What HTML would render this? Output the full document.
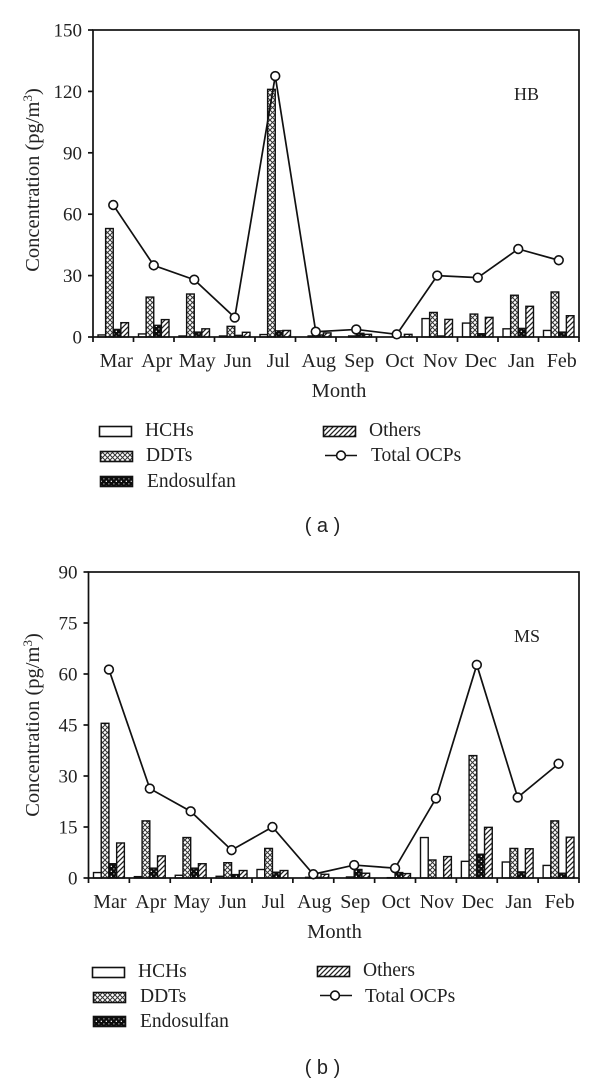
<!DOCTYPE html>
<html>
<head>
<meta charset="utf-8">
<style>
html,body{margin:0;padding:0;background:#fff;}
svg{display:block;}
text{font-family:"Liberation Serif",serif;fill:#222;font-size:19.5px;}
.cap{font-family:"Liberation Sans",sans-serif;font-size:20px;}
</style>
</head>
<body>
<svg id="fig" xmlns="http://www.w3.org/2000/svg" width="600" height="1082" viewBox="0 0 600 1082">
  <defs>
    <pattern id="p-ddt" patternUnits="userSpaceOnUse" width="5" height="5">
      <rect width="5" height="5" fill="#fff"/>
      <path d="M0 0L5 5M5 0L0 5" stroke="#333" stroke-width="1"/>
    </pattern>
    <pattern id="p-endo" patternUnits="userSpaceOnUse" width="5" height="5">
      <rect width="5" height="5" fill="#0c0c0c"/>
      <rect x="0.7" y="0.7" width="1.3" height="1.3" fill="#eee"/>
      <rect x="3.2" y="3.2" width="1.3" height="1.3" fill="#999"/>
    </pattern>
    <pattern id="p-others" patternUnits="userSpaceOnUse" width="5" height="5">
      <rect width="5" height="5" fill="#fff"/>
      <path d="M-1 6L6 -1M-1 1L1 -1M4 6L6 4" stroke="#222" stroke-width="1.3"/>
    </pattern>
  </defs>

  <g id="chart-a"></g>
  <g id="chart-b"></g>

  <g>
    <g>
      <rect x="99.5" y="426.5" width="32" height="10" fill="#fff" stroke="#111" stroke-width="1.6"/>
      <text x="145" y="436">HCHs</text>
    </g>
    <g>
      <rect x="100.5" y="451.5" width="32" height="10" fill="url(#p-ddt)" stroke="#111" stroke-width="1.6"/>
      <text x="146" y="461">DDTs</text>
    </g>
    <g>
      <rect x="100.5" y="476.5" width="32" height="10" fill="url(#p-endo)" stroke="#111" stroke-width="1.6"/>
      <text x="147" y="487">Endosulfan</text>
    </g>
    <g>
      <rect x="323.5" y="426.5" width="32" height="10" fill="url(#p-others)" stroke="#111" stroke-width="1.6"/>
      <text x="369" y="436">Others</text>
    </g>
    <g>
      <line x1="325" y1="455.5" x2="357" y2="455.5" stroke="#111" stroke-width="1.6"/>
      <circle cx="341" cy="455.5" r="4.4" fill="#fff" stroke="#111" stroke-width="1.6"/>
      <text x="371" y="461">Total OCPs</text>
    </g>
  </g>
  <text class="cap" x="322.5" y="532" text-anchor="middle">( a )</text>

  <g>
    <g>
      <rect x="92.5" y="967.5" width="32" height="10" fill="#fff" stroke="#111" stroke-width="1.6"/>
      <text x="138" y="977">HCHs</text>
    </g>
    <g>
      <rect x="93.5" y="992.5" width="32" height="10" fill="url(#p-ddt)" stroke="#111" stroke-width="1.6"/>
      <text x="140" y="1002">DDTs</text>
    </g>
    <g>
      <rect x="93.5" y="1016.5" width="32" height="10" fill="url(#p-endo)" stroke="#111" stroke-width="1.6"/>
      <text x="140" y="1027">Endosulfan</text>
    </g>
    <g>
      <rect x="317.5" y="966.5" width="32" height="10" fill="url(#p-others)" stroke="#111" stroke-width="1.6"/>
      <text x="363" y="976">Others</text>
    </g>
    <g>
      <line x1="320" y1="995.5" x2="352" y2="995.5" stroke="#111" stroke-width="1.6"/>
      <circle cx="335" cy="995.5" r="4.4" fill="#fff" stroke="#111" stroke-width="1.6"/>
      <text x="365" y="1002">Total OCPs</text>
    </g>
  </g>
  <text class="cap" x="322.5" y="1074" text-anchor="middle">( b )</text>
</svg>

<script>
var months = ['Mar','Apr','May','Jun','Jul','Aug','Sep','Oct','Nov','Dec','Jan','Feb'];

var hbTicks = [0,30,60,90,120,150];
var hbHCHs = [1,1.5,0.5,0.5,1.2,0,0,0,9,6.8,4,3.2];
var hbDDTs = [53,19.5,21,5.2,121,0.5,0.5,0,12,11.2,20.4,22];
var hbEndosulfan = [3.7,5.7,2.4,0.8,3,1,1.8,0,0.5,1.6,4.2,2.4];
var hbOthers = [7,8.5,4,2.3,3.2,2,1.3,1.3,8.6,9.6,15,10.4];
var hbTotal = [64.5,35,28,9.5,127.5,2.6,3.7,1.3,30,29,43,37.5];

var msTicks = [0,15,30,45,60,75,90];
var msHCHs = [1.6,0.4,0.8,0.5,2.5,0,0,0,11.9,4.9,4.7,3.7];
var msDDTs = [45.5,16.8,11.9,4.5,8.7,0.2,0.3,0.1,5.3,36,8.7,16.8];
var msEndosulfan = [4.2,2.9,2.9,1,1.7,0.2,2.5,1.6,0,7,1.8,1.4];
var msOthers = [10.3,6.5,4.2,2.2,2.2,1.1,1.4,1.3,6.3,14.9,8.6,12];
var msTotal = [61.3,26.3,19.6,8.2,15,1.1,3.8,2.9,23.4,62.7,23.7,33.6];

var NS = 'http://www.w3.org/2000/svg';
function make(parent, tag, attrs) {
  var el = document.createElementNS(NS, tag);
  for (var k in attrs) { el.setAttribute(k, attrs[k]); }
  parent.appendChild(el);
  return el;
}

function drawChart(root, box, ticks, series, total, label) {
  var yMax = ticks[ticks.length - 1];
  var band = (box.right - box.left) / months.length;
  function xBand(i) { return box.left + band * i; }
  function yVal(v) { return box.bottom - (v / yMax) * (box.bottom - box.top); }

  var fills = ['#fff', 'url(#p-ddt)', 'url(#p-endo)', 'url(#p-others)'];
  var names = ['hchs', 'ddts', 'endosulfan', 'others'];
  var barW = (band - 10) / 4;

  series.forEach(function (vals, s) {
    vals.forEach(function (v, i) {
      if (v <= 0) { return; }
      var bar = make(root, 'rect', {
        x: xBand(i) + 5 + s * barW,
        y: yVal(v),
        width: barW,
        height: box.bottom - yVal(v),
        fill: fills[s],
        stroke: '#111',
        'stroke-width': 1.4
      });
      
      
    });
  });

  var frame = make(root, 'rect', {
    x: box.left, y: box.top,
    width: box.right - box.left, height: box.bottom - box.top,
    fill: 'none', stroke: '#111', 'stroke-width': 1.7
  });
  
  

  ticks.forEach(function (t) {
    var y = yVal(t);
    var mark = make(root, 'line', { x1: box.left - 5, x2: box.left, y1: y, y2: y, stroke: '#111', 'stroke-width': 1.7 });
    
    
    var txt = make(root, 'text', { x: box.left - 11, y: y + 6.5, 'text-anchor': 'end', style: 'font-size:19px' });
    txt.textContent = t;
    
    
  });

  for (var j = 0; j <= months.length; j++) {
    var xt = make(root, 'line', { x1: xBand(j), x2: xBand(j), y1: box.bottom, y2: box.bottom + 5, stroke: '#111', 'stroke-width': 1.7 });
    
    
  }

  months.forEach(function (m, i) {
    var lab = make(root, 'text', { x: xBand(i) + band / 2 + box.labelShift, y: box.bottom + 30, 'text-anchor': 'middle', style: 'font-size:20px' });
    lab.textContent = m;
    
    
  });

  var pts = total.map(function (v, i) { return (xBand(i) + band / 2) + ',' + yVal(v); }).join(' ');
  var line = make(root, 'polyline', { points: pts, fill: 'none', stroke: '#111', 'stroke-width': 1.7 });
  
  

  total.forEach(function (v, i) {
    var dot = make(root, 'circle', { cx: xBand(i) + band / 2, cy: yVal(v), r: 4.4, fill: '#fff', stroke: '#111', 'stroke-width': 1.6 });
    
    
  });

  var xTitle = make(root, 'text', { x: box.monthX, y: box.bottom + 60, 'text-anchor': 'middle', style: 'font-size:20.5px' });
  xTitle.textContent = 'Month';
  
  

  var yTitle = make(root, 'text', {
    x: 0, y: 0, 'text-anchor': 'middle', style: 'font-size:20.5px',
    transform: 'translate(' + box.titleX + ',' + box.titleY + ') rotate(-90)'
  });
  
  
  yTitle.appendChild(document.createTextNode('Concentration (pg/m'));
  var sup = make(yTitle, 'tspan', { dy: -7, style: 'font-size:13px' });
  sup.textContent = '3';
  var close = make(yTitle, 'tspan', { dy: 7 });
  close.textContent = ')';

  var tag = make(root, 'text', { x: box.tagX, y: box.tagY, style: 'font-size:18px' });
  tag.textContent = label;
  
  
}

drawChart(document.getElementById('chart-a'),
  { left: 93, right: 579, top: 30, bottom: 337, titleX: 39, titleY: 180, tagX: 514, tagY: 100, labelShift: 3, monthX: 339 },
  hbTicks, [hbHCHs, hbDDTs, hbEndosulfan, hbOthers], hbTotal, 'HB');

drawChart(document.getElementById('chart-b'),
  { left: 88.5, right: 579, top: 572, bottom: 878, titleX: 39, titleY: 725, tagX: 514, tagY: 642, labelShift: 1, monthX: 334.5 },
  msTicks, [msHCHs, msDDTs, msEndosulfan, msOthers], msTotal, 'MS');
</script>
</body>
</html>
